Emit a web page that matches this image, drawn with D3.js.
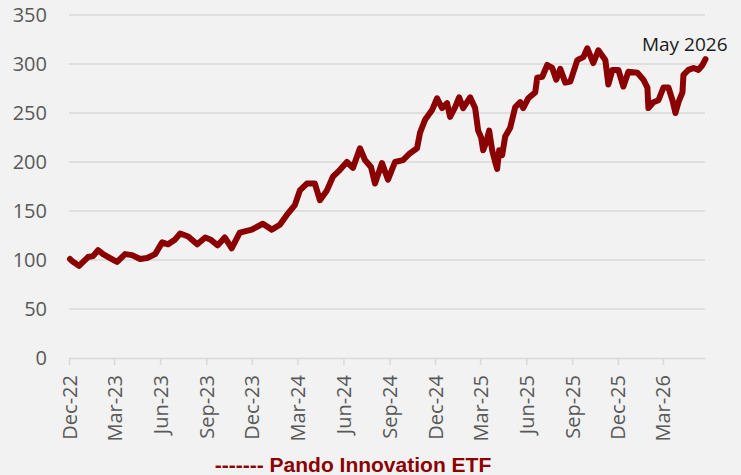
<!DOCTYPE html>
<html>
<head>
<meta charset="utf-8">
<script src="https://cdn.jsdelivr.net/npm/d3@7"></script>
<style>
  html, body { margin: 0; padding: 0; background: #f2f2f2; }
</style>
</head>
<body>
<div class="canvas"></div>
<script>
// ETF index level
const dates = [
  "2022-12-03","2022-12-07","2022-12-21","2023-01-08","2023-01-18","2023-01-28","2023-02-07","2023-02-21",
  "2023-03-07","2023-03-23","2023-04-06","2023-04-22","2023-05-06","2023-05-22","2023-06-05","2023-06-17",
  "2023-07-01","2023-07-11","2023-07-27","2023-08-14","2023-08-30","2023-09-09","2023-09-24","2023-10-08",
  "2023-10-22","2023-11-07","2023-12-01","2023-12-23","2024-01-10","2024-01-26","2024-02-09","2024-02-25",
  "2024-03-06","2024-03-20","2024-04-05","2024-04-15","2024-04-29","2024-05-11","2024-05-25","2024-06-08",
  "2024-06-20","2024-07-04","2024-07-14","2024-07-26","2024-08-03","2024-08-17","2024-08-29","2024-09-12",
  "2024-09-28","2024-10-12","2024-10-26","2024-11-01","2024-11-11","2024-11-25","2024-12-05","2024-12-15",
  "2024-12-25","2024-12-31","2025-01-10","2025-01-18","2025-01-26","2025-02-09","2025-02-19","2025-02-25",
  "2025-03-03","2025-03-07","2025-03-13","2025-03-19","2025-03-25","2025-03-31","2025-04-04","2025-04-08",
  "2025-04-14","2025-04-20","2025-04-30","2025-05-10","2025-05-20","2025-05-26","2025-06-05","2025-06-19",
  "2025-06-23","2025-07-03","2025-07-13","2025-07-23","2025-07-31","2025-08-08","2025-08-18","2025-08-28",
  "2025-09-11","2025-09-23","2025-10-01","2025-10-13","2025-10-23","2025-11-06","2025-11-12","2025-11-20",
  "2025-12-02","2025-12-12","2025-12-22","2026-01-09","2026-01-21","2026-01-29","2026-01-31","2026-02-10",
  "2026-02-20","2026-03-02","2026-03-12","2026-03-20","2026-03-26","2026-04-01","2026-04-09","2026-04-11",
  "2026-04-21","2026-05-01","2026-05-11","2026-05-19","2026-05-25"
];
const values = [
  101, 99, 94, 103, 104, 110, 106, 102,
  98, 106, 105, 101, 102, 106, 118, 116,
  121, 127, 124, 116, 123, 121, 115, 123,
  112, 128, 131, 137, 131, 136, 146, 156,
  171, 178, 178, 161, 171, 185, 192, 200,
  194, 214, 202, 195, 178, 199, 182, 200,
  202, 209, 214, 230, 243, 253, 265, 255,
  260, 246, 256, 266, 255, 266, 255, 232,
  225, 212, 220, 232, 212, 200, 193, 212,
  207, 226, 235, 256, 261, 255, 265, 271,
  286, 287, 299, 296, 284, 295, 281, 282,
  304, 307, 316, 301, 314, 304, 279, 294,
  294, 277, 292, 291, 284, 276, 255, 261,
  263, 276, 276, 263, 250, 261, 271, 289,
  294, 296, 294, 299, 305
];
const yTicks = [0, 50, 100, 150, 200, 250, 300, 350];
const xTicks = ["2022-12-01","2023-03-01","2023-06-01","2023-09-01","2023-12-01","2024-03-01","2024-06-01",
  "2024-09-01","2024-12-01","2025-03-01","2025-06-01","2025-09-01","2025-12-01","2026-03-01"];
const seriesName = "Pando Innovation ETF";
const endLabel = "May 2026";

const parse = d3.timeParse("%Y-%m-%d");
const data = dates.map((d, i) => ({ date: parse(d), value: values[i] }));

const width = 741, height = 475;
const margin = { left: 69, right: 36, top: 15, bottom: 117 };

const svg = d3.select(".canvas")
  .append("svg")
  .attr("width", width)
  .attr("height", height)
  .style("display", "block");

svg.append("rect")
  .attr("width", width)
  .attr("height", height)
  .attr("fill", "#f2f2f2");

const x = d3.scaleTime()
  .domain([parse("2022-12-01"), parse("2026-05-24")])
  .range([margin.left, width - margin.right]);

const y = d3.scaleLinear()
  .domain([0, 350])
  .range([height - margin.bottom, margin.top]);

// gridlines
svg.append("g")
  .selectAll("line")
  .data(yTicks.filter(t => t > 0))
  .join("line")
  .attr("x1", margin.left)
  .attr("x2", width - margin.right)
  .attr("y1", d => y(d))
  .attr("y2", d => y(d))
  .attr("stroke", "#d9d9d9")
  .attr("stroke-width", 1.5);

// y axis labels
const yAxis = svg.append("g")
  .attr("transform", `translate(${margin.left},0)`)
  .call(d3.axisLeft(y).tickValues(yTicks).tickSize(0).tickPadding(22));
yAxis.select(".domain").remove();
yAxis.selectAll("text")
  .attr("font-family", "'Open Sans', sans-serif")
  .attr("font-size", 20)
  .attr("fill", "#595959");

// x axis
const xAxis = svg.append("g")
  .attr("transform", `translate(0,${y(0)})`)
  .call(d3.axisBottom(x)
    .tickValues(xTicks.map(parse))
    .tickFormat(d3.timeFormat("%b-%y"))
    .tickSize(7)
    .tickSizeOuter(0));
xAxis.select(".domain")
  .attr("stroke", "#d9d9d9")
  .attr("stroke-width", 1.5);
xAxis.selectAll(".tick line")
  .attr("stroke", "#d9d9d9")
  .attr("stroke-width", 1.5);
xAxis.selectAll("text")
  .attr("font-family", "'Open Sans', sans-serif")
  .attr("font-size", 20)
  .attr("fill", "#595959")
  .attr("text-anchor", "end")
  .attr("transform", "rotate(-90)")
  .attr("x", -17)
  .attr("y", 0)
  .attr("dy", "0.35em");

// series line
const line = d3.line()
  .x(d => x(d.date))
  .y(d => y(d.value));

svg.append("path")
  .datum(data)
  .attr("d", line)
  .attr("fill", "none")
  .attr("stroke", "#8b0000")
  .attr("stroke-width", 6)
  .attr("stroke-linejoin", "round")
  .attr("stroke-linecap", "round");

// end label
const last = data[data.length - 1];
svg.append("text")
  .attr("x", x(last.date) + 22)
  .attr("y", y(last.value) - 8)
  .attr("text-anchor", "end")
  .attr("font-family", "'Open Sans', sans-serif")
  .attr("font-size", 19)
  .attr("fill", "#1a1a1a")
  .text(endLabel);

// legend
svg.append("text")
  .attr("x", 353)
  .attr("y", 472)
  .attr("text-anchor", "middle")
  .attr("font-family", "'Liberation Sans', Arial, sans-serif")
  .attr("font-weight", "bold")
  .attr("font-size", 21)
  .attr("fill", "#8b0000")
  .text("------- " + seriesName);
</script>
</body>
</html>
